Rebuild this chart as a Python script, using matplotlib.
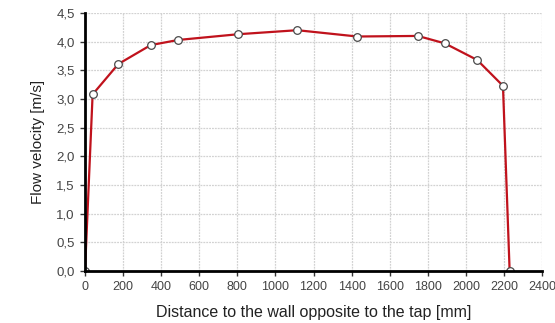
import matplotlib.pyplot as plt
from matplotlib.ticker import FuncFormatter, MultipleLocator

# velocity profile across the duct
distance = [0, 40, 175, 345, 490, 805, 1115, 1430, 1748, 1890, 2060, 2195, 2230]
velocity = [0.0, 3.08, 3.61, 3.94, 4.03, 4.13, 4.20, 4.09, 4.10, 3.97, 3.68, 3.23, 0.0]

plt.rcParams['font.family'] = ['Liberation Sans', 'DejaVu Sans']

fig = plt.figure(figsize=(5.55, 3.23), dpi=100)
ax = fig.add_axes([85/555, 1 - 271/323, (542 - 85)/555, (271 - 13)/323])

ax.plot(distance, velocity, color='#c0121c', lw=1.6, zorder=3,
        marker='o', ms=5.5, mfc='white', mec='#4a4a4a', mew=0.9)

ax.set_xlim(0, 2400)
ax.set_ylim(0, 4.5)
ax.xaxis.set_major_locator(MultipleLocator(200))
ax.yaxis.set_major_locator(MultipleLocator(0.5))
ax.yaxis.set_major_formatter(FuncFormatter(lambda v, p: f"{v:.1f}".replace('.', ',')))

ax.grid(True, color='#d2d2d2', lw=0.9, ls=(0, (1.5, 0.8)))
ax.set_axisbelow(True)
for s in ('top', 'right'):
    ax.spines[s].set_visible(False)
for s in ('left', 'bottom'):
    ax.spines[s].set_linewidth(2)
    ax.spines[s].set_zorder(4)
ax.tick_params(length=3.5, width=1, color='#333333', labelcolor='#444444', pad=4)
ax.tick_params(axis='x', labelsize=9)
ax.tick_params(axis='y', labelsize=9.5)

ax.set_xlabel('Distance to the wall opposite to the tap [mm]', fontsize=11.5,
              labelpad=8, color='#222222')
ax.set_ylabel('Flow velocity [m/s]', fontsize=11, labelpad=8, color='#222222')

fig.savefig('out.png', dpi=100)
